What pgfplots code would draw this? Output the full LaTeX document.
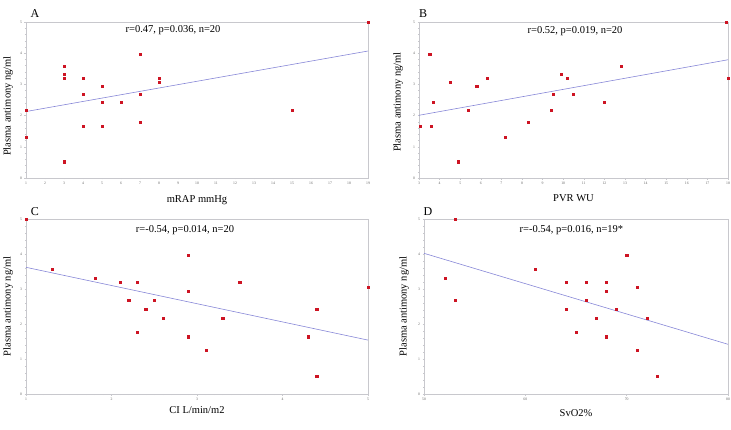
\documentclass[border=0pt]{standalone}
\usepackage{fontspec}
\setmainfont{Liberation Serif}
\usepackage{pgfplots}
\pgfplotsset{compat=1.18}
\definecolor{pt}{RGB}{205,20,35}
\definecolor{fit}{RGB}{135,135,215}
\definecolor{ax}{RGB}{200,200,205}
\pgfplotsset{
  panel/.style={
    scale only axis, anchor=south west, clip=false,
    axis line style={ax, line width=0.5pt},
    tick style={ax, line width=0.4pt},
    major tick length=1.5pt, minor tick length=1pt,
    tick align=outside,
    xtick pos=bottom, ytick pos=left,
    ymin=0, ymax=5, ytick={0,1,2,3,4,5}, minor y tick num=4,
    ticklabel style={font=\fontsize{3.8}{4}\selectfont, text=gray!80!black},
    /pgf/number format/assume math mode=true,
    xticklabel style={yshift=1pt},
    yticklabel style={xshift=1pt},
    label style={font=\fontsize{10.5}{12}\selectfont},
    ylabel={Plasma antimony ng/ml},
    ylabel style={at={(axis description cs:0,0.5)}, anchor=center},
  },
  pts/.style={only marks, mark=square*, mark size=1.1pt, color=pt},
  fl/.style={no marks, color=fit, line width=0.6pt},
}
\begin{document}
\begin{tikzpicture}
\path[use as bounding box] (0,0) rectangle (731pt,429pt);
% Panel A
\begin{axis}[panel, at={(26pt,251pt)}, width=342pt, height=156pt,
  xmin=1, xmax=19, xtick={1,...,19}, minor x tick num=4,
  xlabel={mRAP mmHg},
  xlabel style={at={(axis description cs:0.5,0)}, anchor=center, yshift=-22pt},
  ylabel style={yshift=18pt, xshift=-6pt}]
\addplot[pts] coordinates {
(1,2.17) (1,1.30) (3,3.59) (3,3.33) (3,3.20) (3,0.52) (4,3.20) (4,2.69) (4,1.67)
(5,2.94) (5,2.43) (5,1.67) (6,2.43) (7,3.96) (7,2.69) (7,1.80) (8,3.20) (8,3.07)
(15,2.17) (19,5.0)};
\addplot[fl] coordinates {(1,2.13) (19,4.07)};
\node[font=\fontsize{10.5}{12}\selectfont, anchor=center] at (axis description cs:0.43,0.95) {r=0.47, p=0.036, n=20};
\node[font=\fontsize{12}{14}\selectfont, anchor=center] at (axis description cs:0.026,1.055) {A};
\end{axis}
% Panel B
\begin{axis}[panel, at={(419pt,251pt)}, width=309pt, height=156pt,
  xmin=3, xmax=18, xtick={3,...,18}, minor x tick num=4,
  xlabel={PVR WU},
  xlabel style={at={(axis description cs:0.5,0)}, anchor=center, yshift=-20pt},
  ylabel style={yshift=21pt, xshift=-2pt}]
\addplot[pts] coordinates {
(3.05,1.67) (3.52,3.96) (3.6,1.67) (3.7,2.43) (4.5,3.07) (4.9,0.52) (5.4,2.17)
(5.8,2.94) (6.3,3.20) (7.2,1.30) (8.3,1.80) (9.43,2.17) (9.5,2.69) (9.9,3.33)
(10.2,3.20) (10.5,2.69) (12.0,2.43) (12.8,3.59) (17.9,5.0) (18.0,3.20)};
\addplot[fl] coordinates {(3,2.01) (18,3.79)};
\node[font=\fontsize{10.5}{12}\selectfont, anchor=center] at (axis description cs:0.505,0.94) {r=0.52, p=0.019, n=20};
\node[font=\fontsize{12}{14}\selectfont, anchor=center] at (axis description cs:0.013,1.055) {B};
\end{axis}
% Panel C
\begin{axis}[panel, at={(26pt,35pt)}, width=342pt, height=175pt,
  xmin=1, xmax=5, xtick={1,...,5}, minor x tick num=9,
  xlabel={CI L/min/m2},
  xlabel style={at={(axis description cs:0.5,0)}, anchor=center, yshift=-16pt},
  ylabel style={yshift=18pt}]
\addplot[pts] coordinates {
(1,5.0) (1.31,3.57) (1.81,3.32) (2.1,3.20) (2.3,3.20) (2.2,2.68) (2.5,2.68)
(2.4,2.42) (2.6,2.17) (2.3,1.77) (2.9,3.96) (2.9,2.94) (2.9,1.64) (3.11,1.26)
(3.3,2.17) (3.5,3.20) (4.3,1.64) (4.4,2.42) (4.4,0.50) (5.0,3.06)};
\addplot[fl] coordinates {(1,3.62) (5,1.54)};
\node[font=\fontsize{10.5}{12}\selectfont, anchor=center] at (axis description cs:0.465,0.935) {r=-0.54, p=0.014, n=20};
\node[font=\fontsize{12}{14}\selectfont, anchor=center] at (axis description cs:0.026,1.04) {C};
\end{axis}
% Panel D
\begin{axis}[panel, at={(424pt,35pt)}, width=304pt, height=175pt,
  xmin=50, xmax=80, xtick={50,60,70,80}, minor x tick num=9,
  xlabel={SvO2\%},
  xlabel style={at={(axis description cs:0.5,0)}, anchor=center, yshift=-19pt},
  ylabel style={yshift=20pt}]
\addplot[pts] coordinates {
(53.1,5.0) (52.1,3.32) (53.1,2.68) (61.0,3.57) (64,3.20) (64,2.42) (65,1.77)
(66,3.20) (66,2.68) (67,2.17) (68,3.20) (68,2.94) (68,1.64) (69,2.42) (70,3.96)
(71,3.06) (71,1.26) (72,2.17) (73,0.50)};
\addplot[fl] coordinates {(50,4.02) (80,1.42)};
\node[font=\fontsize{10.5}{12}\selectfont, anchor=center] at (axis description cs:0.485,0.935) {r=-0.54, p=0.016, n=19*};
\node[font=\fontsize{12}{14}\selectfont, anchor=center] at (axis description cs:0.013,1.04) {D};
\end{axis}
\end{tikzpicture}
\end{document}
